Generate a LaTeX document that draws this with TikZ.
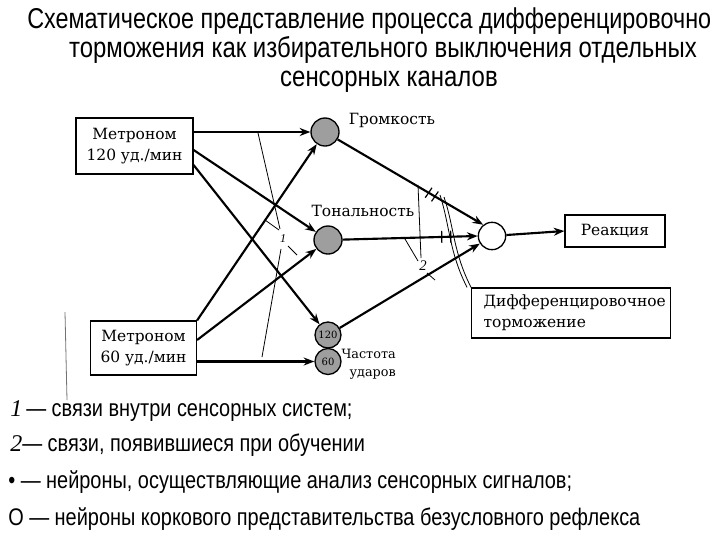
\documentclass[tikz,border=0pt]{standalone}
\usepackage{fontspec}
\setmainfont{DejaVu Serif}
\newfontfamily\sansc[FakeStretch=0.835]{Liberation Sans}
\newfontfamily\sanst[FakeStretch=0.815]{Liberation Sans}
\newfontfamily\sansl[FakeStretch=0.83]{Liberation Sans}
\newfontfamily\serifit{Liberation Serif}
\usetikzlibrary{arrows.meta,calc}
\tikzset{
  dtext/.style={font=\fontsize{11.6}{15.5}\selectfont},
  neuron/.style={circle,draw,line width=1pt,fill=black!38,inner sep=0pt,minimum size=21pt},
  smallneuron/.style={neuron,minimum size=19.5pt,font=\fontsize{7.5}{8}\selectfont},
  reacneuron/.style={circle,draw,line width=1pt,fill=white,inner sep=0pt,minimum size=20.5pt},
  boxnode/.style={draw,line width=0.9pt,fill=white,inner sep=0pt,align=center,dtext},
  conn/.style={line width=1.6pt,-{Stealth[length=8pt,width=6pt]}},
  fine/.style={line width=0.6pt},
  tick/.style={line width=0.9pt},
  titletext/.style={anchor=base,inner sep=0pt,font=\sansc\fontsize{21.5}{26}\selectfont},
  legtext/.style={anchor=base west,inner sep=0pt,font=\sansl\fontsize{18}{22}\selectfont}
}
\begin{document}
\begin{tikzpicture}[x=0.75pt,y=-0.75pt]
\useasboundingbox[fill=white] (0,0) rectangle (720,540);

% title
\node[titletext,anchor=base west,font=\sanst\fontsize{21.5}{26}\selectfont] (t1) at (27,28) {Схематическое представление процесса дифференцировочно};
\node[titletext] (t2) at (383,57) {торможения как избирательного выключения отдельных};
\node[titletext] (t3) at (389,86) {сенсорных каналов};

% boxes
\node[boxnode,minimum width=87.75pt,minimum height=42pt] (box1) at (134.5,146) {Метроном\\120 уд./мин};
\node[boxnode,minimum width=79.5pt,minimum height=40.5pt] (box2) at (143.5,348) {Метроном\\60 уд./мин};
\node[boxnode,minimum width=75pt,minimum height=24pt] (reac) at (615,231) {Реакция};
\node[boxnode,align=left,text width=131pt,inner xsep=9pt,minimum height=37.5pt] (diff) at (571,313) {Дифференцировочное\\торможение};

% neurons
\node[neuron] (gr) at (325,132) {};
\node[neuron] (ton) at (328,240) {};
\node[smallneuron] (n120) at (328,335) {120};
\node[smallneuron] (n60) at (328,361.5) {60};
\node[reacneuron] (R) at (492,236) {};

% neuron labels
\node[dtext,anchor=base] (lgr) at (392,124) {Громкость};
\node[dtext,anchor=base] (lton) at (363,216) {Тональность};
\node[align=right,anchor=east,inner sep=0pt,font=\fontsize{9.6}{13.5}\selectfont] (lfr) at (396,364) {Частота\\ударов};

% thick connectors
\draw[conn] (box1.east |- gr) -- (gr);
\draw[conn] ($(box1.east)+(0,4)$) -- (ton);
\draw[conn] ($(box1.east)+(0,19)$) -- (n120);
\draw[conn] (box2.north east) -- (gr);
\draw[conn] ($(box2.east)+(0,-8)$) -- (ton);
\draw[conn] (box2.east |- n60) -- (n60);
\draw[conn] (gr) -- (R.128);
\draw[conn] (ton) -- (R.west);
\draw[conn] (n120) -- (R.212);
\draw[conn] (R) -- (reac.west);

% ticks (blocked connections)
\coordinate (k1) at ($(gr)!0.655!(R.128)$);
\coordinate (k2) at ($(gr)!0.695!(R.128)$);
\coordinate (k3) at ($(ton)!0.76!(R.west)$);
\coordinate (k4) at ($(ton)!0.82!(R.west)$);
\foreach \k in {k1,k2,k3,k4}{
  \draw[tick] ($(\k)!4.5pt!90:(R)$) -- ($(\k)!4.5pt!-90:(R)$);
}

% double line to inhibition box
\draw[fine] (440,195) .. controls (450,226) and (449,252) .. ($(diff.north west)+(-4,0)$);
\draw[fine] (444,197) .. controls (454,226) and (453,252) .. (diff.north west);

% label 1 and its lines
\node[font=\serifit\itshape\fontsize{9}{10}\selectfont,inner sep=0pt] (one) at (283,239) {1};
\draw[fine] (258,133) -- (280,229);
\draw[fine] (281,249) -- (262,357);
\draw[fine] (265,220) -- (279,230);
\draw[fine] (288,246) -- (297,255);

% label 2 and its lines
\node[font=\serifit\itshape\fontsize{11}{12}\selectfont,inner sep=0pt] (two) at (423,266) {2};
\draw[fine] (418,185) -- (421,258);
\draw[fine] (405,239) -- (418,261);
\draw[fine] (427,273) -- (435,280);

% scan edge line
\draw[line width=0.6pt,black!55] (65,312) -- (67,400);

% legend
\node[legtext] (l1) at (10,416) {{\serifit\itshape 1}\,— связи внутри сенсорных систем;};
\node[legtext] (l2) at (10,451) {{\serifit\itshape 2}— связи, появившиеся при обучении};
\node[legtext] (l3) at (8,488) {• — нейроны, осуществляющие анализ сенсорных сигналов;};
\node[legtext] (l4) at (8,525) {О — нейроны коркового представительства безусловного рефлекса};
\end{tikzpicture}
\end{document}
